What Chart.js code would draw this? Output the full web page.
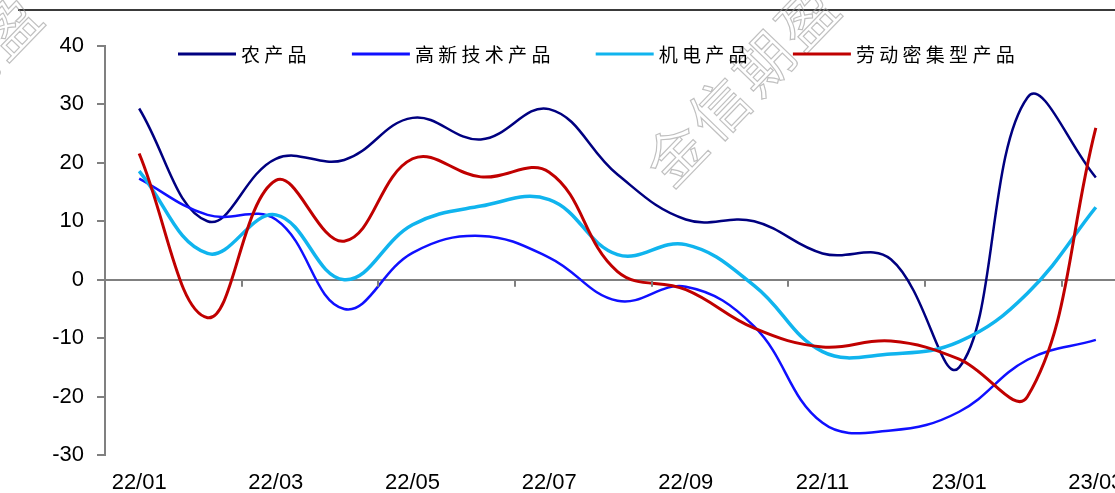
<!DOCTYPE html>
<html>
<head>
<meta charset="utf-8">
<script src="https://cdn.jsdelivr.net/npm/chart.js@4.4.0/dist/chart.umd.min.js"></script>
<style>
  html, body { margin: 0; padding: 0; background: #fff; }
  #wrap { width: 1115px; height: 493px; overflow: hidden; position: relative; }
  canvas { display: block; }
</style>
</head>
<body>
<div id="wrap"><canvas id="myChart" width="1140" height="493"></canvas></div>
<script>
// data
const months = ['22/01', '22/02', '22/03', '22/04', '22/05', '22/06', '22/07', '22/08',
                '22/09', '22/10', '22/11', '22/12', '23/01', '23/02', '23/03'];
const farm    = [29.3, 10.0, 20.7, 20.5, 27.7, 24.0, 29.2, 18.0, 10.3, 10.0, 4.5, 3.5, -15.0, 31.2, 17.5];
const hiTech  = [17.3, 11.1, 10.3, -5.0, 4.6, 7.5, 3.8, -3.6, -1.2, -8.0, -24.5, -25.8, -22.6, -13.7, -10.3];
const electro = [18.6, 4.5, 11.1, 0.0, 9.4, 12.6, 13.7, 4.3, 6.0, -1.0, -12.3, -12.7, -10.6, -2.3, 12.4];
const labour  = [21.6, -6.5, 17.0, 6.6, 20.7, 17.6, 18.4, 1.4, -1.7, -8.3, -11.5, -10.5, -13.6, -20.0, 26.0];
const seriesNames = ['农产品', '高新技术产品', '机电产品', '劳动密集型产品'];
const yTicks = [-30, -20, -10, 0, 10, 20, 30, 40];

const axisGray = '#808080';
const tickFont = { family: '"Liberation Sans", Arial, sans-serif', size: 22 };

// top rule of the report page
const frameLine = {
  id: 'frameLine',
  beforeDraw(chart) {
    const ctx = chart.ctx;
    ctx.save();
    ctx.fillStyle = '#3a3a3a';
    ctx.fillRect(18, 9, chart.width, 2);
    ctx.restore();
  }
};

// faint diagonal watermark
const watermark = {
  id: 'watermark',
  beforeDatasetsDraw(chart) {
    const ctx = chart.ctx;
    ctx.save();
    ctx.font = '58px "Noto Sans CJK SC"';
    ctx.letterSpacing = '5px';
    ctx.strokeStyle = 'rgba(150,150,150,0.6)';
    ctx.lineWidth = 1.2;
    ctx.textAlign = 'center';
    ctx.textBaseline = 'middle';
    [[743, 84], [-54, 93]].forEach(([cx, cy]) => {
      ctx.save();
      ctx.translate(cx, cy);
      ctx.rotate(-46 * Math.PI / 180);
      ctx.strokeText('金信期盈', 0, 0);
      ctx.restore();
    });
    ctx.restore();
  }
};

// small tick marks hanging under the zero line, one every two months
const zeroTicks = {
  id: 'zeroTicks',
  afterDraw(chart) {
    const xs = chart.scales.x;
    const y0 = chart.scales.y.getPixelForValue(0);
    const half = (xs.getPixelForValue(1) - xs.getPixelForValue(0)) / 2;
    const ctx = chart.ctx;
    ctx.save();
    ctx.strokeStyle = axisGray;
    ctx.lineWidth = 2;
    ctx.beginPath();
    for (let i = 2; i < months.length; i += 2) {
      const px = Math.round(xs.getPixelForValue(i) - half);
      ctx.moveTo(px, y0);
      ctx.lineTo(px, y0 + 7);
    }
    ctx.stroke();
    ctx.restore();
  }
};

// legend drawn on top of the plot area, like the original
const topLegend = {
  id: 'topLegend',
  afterDraw(chart) {
    const ctx = chart.ctx;
    ctx.save();
    ctx.font = '19px "Noto Sans CJK SC"';
    ctx.letterSpacing = '4.3px';
    ctx.textBaseline = 'middle';
    const y = 54;
    let x = 178;
    chart.data.datasets.forEach(ds => {
      ctx.strokeStyle = ds.borderColor;
      ctx.lineWidth = 3;
      ctx.beginPath();
      ctx.moveTo(x, y);
      ctx.lineTo(x + 58, y);
      ctx.stroke();
      ctx.fillStyle = '#000';
      ctx.fillText(ds.label, x + 63, y + 1);
      x += 63 + ctx.measureText(ds.label).width + 41;
    });
    ctx.restore();
  }
};

const ctx = document.getElementById('myChart').getContext('2d');
const config = {
  type: 'line',
  data: {
    labels: months,
    datasets: [
      { label: seriesNames[0], data: farm,    borderColor: '#000080', borderWidth: 2.5, order: 4 },
      { label: seriesNames[1], data: hiTech,  borderColor: '#1010ff', borderWidth: 2.5, order: 3 },
      { label: seriesNames[2], data: electro, borderColor: '#10b4ee', borderWidth: 3.5, order: 2 },
      { label: seriesNames[3], data: labour,  borderColor: '#c00000', borderWidth: 3,   order: 1 },
    ],
  },
  options: {
    responsive: false,
    animation: false,
    events: [],
    elements: {
      point: { radius: 0 },
      line: { tension: 0.4, fill: false },
    },
    layout: { padding: { left: 0, right: 10, top: 46, bottom: 0 } },
    plugins: {
      legend: { display: false },
      tooltip: { enabled: false },
    },
    scales: {
      // category axis sitting on y = 0
      x: {
        type: 'category',
        position: { y: 0 },
        offset: true,
        border: { display: true, color: axisGray, width: 2 },
        grid: { display: false },
        ticks: { display: false },
      },
      // labels at the bottom
      x2: {
        type: 'category',
        position: 'bottom',
        offset: true,
        border: { display: false },
        grid: { display: false },
        ticks: {
          autoSkip: false,
          maxRotation: 0,
          padding: 7,
          color: '#000',
          font: tickFont,
          callback: (v, i) => (i % 2 === 0 ? months[i] : ''),
        },
        afterFit: s => { s.height = 38; },
      },
      y: {
        min: yTicks[0],
        max: yTicks[yTicks.length - 1],
        border: { display: true, color: axisGray, width: 2 },
        grid: {
          drawOnChartArea: false,
          drawTicks: true,
          tickLength: 8,
          lineWidth: 2,
          color: axisGray,
        },
        ticks: {
          stepSize: 10,
          padding: 13,
          color: '#000',
          font: tickFont,
        },
        afterFit: s => { s.width = 105; },
      },
    },
  },
  plugins: [frameLine, watermark, zeroTicks, topLegend],
};

new Chart(ctx, config);
</script>
</body>
</html>
